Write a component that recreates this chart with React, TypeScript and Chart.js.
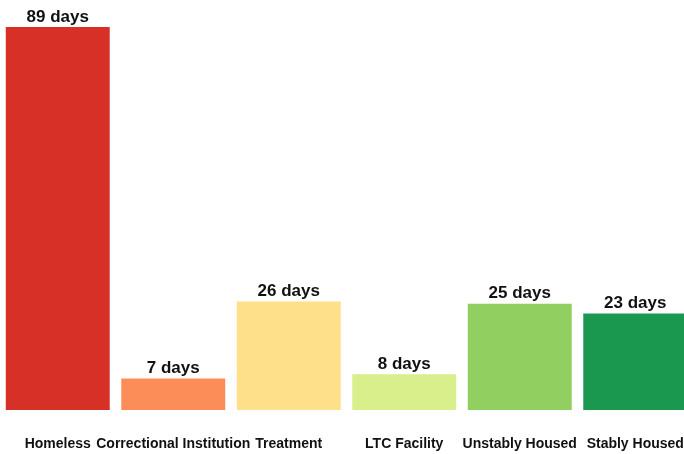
import React, { useEffect, useRef } from "react";
import { Chart, registerables } from "chart.js";

Chart.register(...registerables);

const categories = ["Homeless", "Correctional Institution", "Treatment", "LTC Facility", "Unstably Housed", "Stably Housed"];
// bar heights (days)
const values = [89, 7.3, 25.2, 8.3, 24.7, 22.4];
// labels printed above the bars
const dayLabels = ["89 days", "7 days", "26 days", "8 days", "25 days", "23 days"];
const colors = ["#d73027", "#fc8d59", "#fee08b", "#d9ef8b", "#91cf60", "#1a9850"];

const FONT = "'Liberation Sans', Arial, Helvetica, sans-serif";

const labelPlugin = {
  id: "barLabels",
  afterDatasetsDraw(chart: any) {
    const ctx = chart.ctx;
    const meta = chart.getDatasetMeta(0);
    ctx.save();
    ctx.font = `bold 17px ${FONT}`;
    ctx.fillStyle = "#111";
    ctx.textAlign = "center";
    ctx.textBaseline = "alphabetic";
    meta.data.forEach((bar: any, i: number) => {
      ctx.fillText(dayLabels[i], bar.x, bar.y - 5.5);
    });
    ctx.restore();
  },
};

export default function App() {
  const ref = useRef<HTMLCanvasElement>(null);
  useEffect(() => {
    if (!ref.current) return;
    const chart = new Chart(ref.current, {
      type: "bar",
      data: {
        labels: categories,
        datasets: [
          {
            data: values,
            backgroundColor: colors,
            borderWidth: 0,
            categoryPercentage: 0.9,
            barPercentage: 1,
          },
        ],
      },
      options: {
        responsive: false,
        animation: false,
        layout: { padding: { top: 27, bottom: 0, left: 0, right: 0 } },
        plugins: { legend: { display: false }, tooltip: { enabled: false } },
        scales: {
          x: {
            grid: { display: false, drawTicks: false },
            border: { display: false },
            afterFit(scale: any) {
              scale.height = 44;
              scale.paddingLeft = 0;
              scale.paddingRight = 0;
            },
            ticks: {
              autoSkip: false,
              maxRotation: 0,
              minRotation: 0,
              padding: 26,
              color: "#111",
              font: { family: FONT, size: 14, weight: "bold" },
            },
          },
          y: { display: false, min: 0, max: 89 },
        },
      },
      plugins: [labelPlugin],
    });
    return () => chart.destroy();
  }, []);
  return (
    <div style={{ position: "fixed", left: 0, top: 0, width: 684, height: 454, overflow: "hidden", background: "#fff" }}>
      <canvas ref={ref} width={693} height={454} style={{ display: "block", width: 693, height: 454 }} />
    </div>
  );
}
